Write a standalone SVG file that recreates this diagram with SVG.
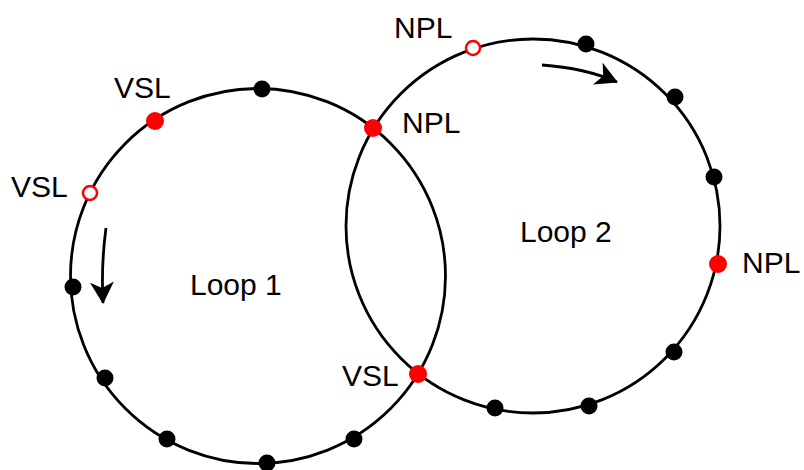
<svg xmlns="http://www.w3.org/2000/svg" width="804" height="470" viewBox="0 0 804 470">
<defs>
<marker id="ah" viewBox="0 0 22 24" refX="21" refY="12" markerWidth="22" markerHeight="24" markerUnits="userSpaceOnUse" orient="auto">
<path d="M0,0 L22,12 L0,24 L6,12 Z" fill="#000"/>
</marker>
</defs>
<style>
.loop{fill:none;stroke:#000;stroke-width:2.8}
.blk{fill:#000}
.red{fill:#f00}
.hol{fill:#fff;stroke:#f00;stroke-width:2.5}
.lbl{font-family:"Liberation Sans",Arial,sans-serif;font-size:30px;fill:#000}
.arr{fill:none;stroke:#000;stroke-width:2.8}
</style>
<rect width="804" height="470" fill="#fff"/>
<g id="loops">
<circle id="loop1-ring" class="loop" cx="258" cy="276" r="187.5"/>
<circle id="loop2-ring" class="loop" cx="533" cy="226" r="187"/>
</g>
<g id="connectors">
<path class="arr" d="M106,228 Q101,265 103,303" marker-end="url(#ah)"/>
<path class="arr" d="M542,65 Q585,68 617,82" marker-end="url(#ah)"/>
</g>
<g id="loop1">
<text class="lbl" x="190" y="295">Loop 1</text>
</g>
<g id="loop2">
<text class="lbl" x="520" y="242">Loop 2</text>
</g>
<g id="dots-black">
<circle class="blk" cx="262" cy="89" r="8.5"/>
<circle class="blk" cx="73" cy="287" r="8.5"/>
<circle class="blk" cx="105" cy="378" r="8.5"/>
<circle class="blk" cx="167" cy="439" r="8.5"/>
<circle class="blk" cx="267" cy="463" r="8.5"/>
<circle class="blk" cx="354" cy="439" r="8.5"/>
<circle class="blk" cx="586" cy="44" r="8.5"/>
<circle class="blk" cx="675" cy="97" r="8.5"/>
<circle class="blk" cx="714" cy="177" r="8.5"/>
<circle class="blk" cx="674" cy="352" r="8.5"/>
<circle class="blk" cx="589" cy="406" r="8.5"/>
<circle class="blk" cx="495" cy="408" r="8.5"/>
</g>
<g id="vsl-top">
<circle class="red" cx="155" cy="121" r="9"/>
<text class="lbl" x="114" y="98">VSL</text>
</g>
<g id="vsl-left">
<circle class="hol" cx="90" cy="193" r="7"/>
<text class="lbl" x="11" y="197">VSL</text>
</g>
<g id="vsl-bottom">
<circle class="red" cx="418" cy="374" r="9"/>
<text class="lbl" x="342" y="386">VSL</text>
</g>
<g id="npl-top">
<circle class="hol" cx="473" cy="48" r="7"/>
<text class="lbl" x="394" y="38">NPL</text>
</g>
<g id="npl-mid">
<circle class="red" cx="373" cy="128" r="9"/>
<text class="lbl" x="402" y="133">NPL</text>
</g>
<g id="npl-right">
<circle class="red" cx="718" cy="264" r="9"/>
<text class="lbl" x="742" y="273">NPL</text>
</g>
</svg>
